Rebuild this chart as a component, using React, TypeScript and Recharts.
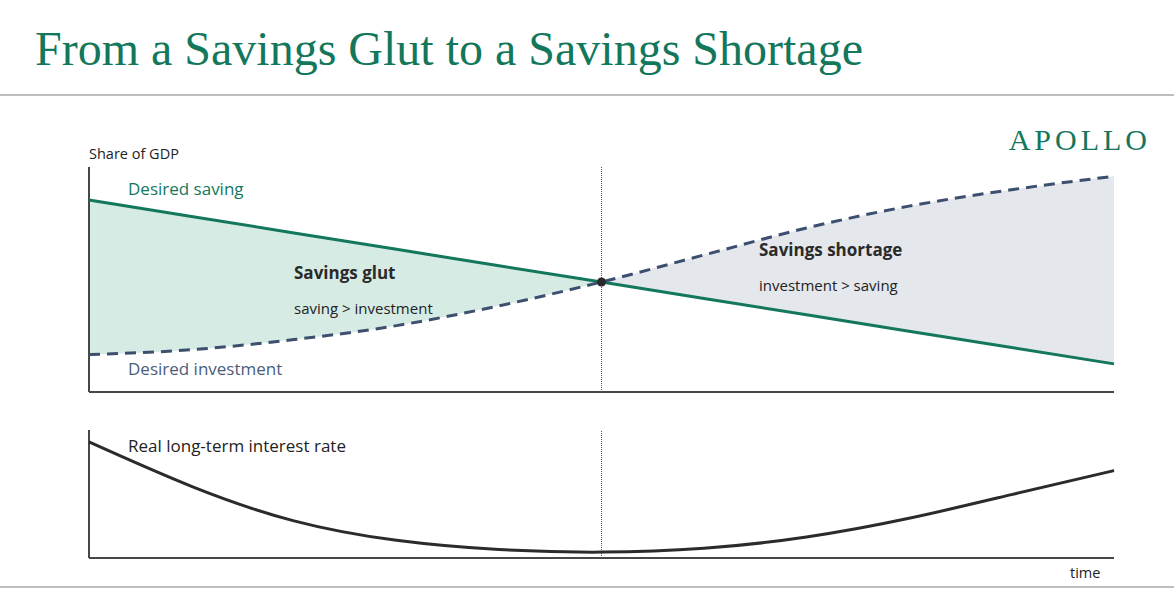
import React from "react";
import {
  ComposedChart,
  LineChart,
  Line,
  Area,
  XAxis,
  YAxis,
  ReferenceLine,
  ReferenceDot,
} from "recharts";

// time axis (0 = left edge, 100 = right edge), 50 = crossing point
const time = [0, 10, 20, 30, 40, 50, 60, 70, 80, 90, 100];
// share of GDP (arbitrary units)
const desiredSaving = [85.3, 78.0, 70.7, 63.4, 56.1, 48.9, 41.6, 34.3, 27.0, 19.8, 12.5];
const desiredInvestment = [16.6, 18.8, 23.3, 29.5, 38.3, 48.9, 60.9, 72.9, 82.6, 89.9, 95.9];
// real long-term interest rate (arbitrary units)
const interestRate = [90.7, 56, 29, 13.8, 6.6, 4.6, 7.6, 16.4, 31, 49.5, 68.3];

const crossing = 50;

const colors = {
  green: "#13775c",
  navy: "#3d4f6f",
  navyText: "#4b5c7a",
  glutFill: "#d7ebe5",
  shortageFill: "#e4e7ec",
  axis: "#474747",
  text: "#222",
  rule: "#a8a8a8",
};

const topData = time.map((t, i) => ({
  t,
  saving: desiredSaving[i],
  investment: desiredInvestment[i],
  glut: t <= crossing ? [desiredInvestment[i], desiredSaving[i]] : null,
  shortage: t >= crossing ? [desiredSaving[i], desiredInvestment[i]] : null,
}));

const bottomData = time.map((t, i) => ({ t, rate: interestRate[i] }));

const sans = "'Open Sans', 'Noto Sans', sans-serif";
const serif = "'Liberation Serif', serif";

const hiddenAxes = [
  <XAxis key="x" dataKey="t" type="number" domain={[0, 100]} hide />,
  <YAxis key="y" type="number" domain={[0, 100]} hide />,
];

export default function App() {
  return (
    <div
      style={{
        position: "absolute",
        left: 0,
        top: 0,
        width: 1174,
        height: 602,
        background: "#fff",
        overflow: "hidden",
      }}
    >
      {/* top panel: saving vs investment */}
      <div style={{ position: "absolute", left: 0, top: 0 }}>
        <ComposedChart
          width={1174}
          height={602}
          data={topData}
          margin={{ top: 167, right: 60, bottom: 210, left: 89 }}
        >
          {hiddenAxes}
          <Area
            dataKey="glut"
            type="monotone"
            stroke="none"
            fill={colors.glutFill}
            fillOpacity={1}
            isAnimationActive={false}
          />
          <Area
            dataKey="shortage"
            type="monotone"
            stroke="none"
            fill={colors.shortageFill}
            fillOpacity={1}
            isAnimationActive={false}
          />
          <ReferenceLine x={0} stroke={colors.axis} strokeWidth={2} />
          <ReferenceLine y={0} stroke={colors.axis} strokeWidth={2} />
          <ReferenceLine x={crossing} stroke="#555" strokeWidth={1} strokeDasharray="1 1" />
          <Line
            dataKey="saving"
            type="linear"
            stroke={colors.green}
            strokeWidth={3}
            dot={false}
            isAnimationActive={false}
          />
          <Line
            dataKey="investment"
            type="monotone"
            stroke={colors.navy}
            strokeWidth={3}
            strokeDasharray="11 7"
            dot={false}
            isAnimationActive={false}
          />
          <ReferenceDot x={crossing} y={desiredSaving[5]} r={4.5} fill="#2a2a2a" stroke="none" />
        </ComposedChart>
      </div>

      {/* bottom panel: real long-term interest rate */}
      <div style={{ position: "absolute", left: 0, top: 0 }}>
        <LineChart
          width={1174}
          height={602}
          data={bottomData}
          margin={{ top: 430, right: 60, bottom: 44, left: 89 }}
        >
          {hiddenAxes}
          <ReferenceLine x={0} stroke={colors.axis} strokeWidth={2} />
          <ReferenceLine y={0} stroke={colors.axis} strokeWidth={2} />
          <ReferenceLine x={crossing} stroke="#555" strokeWidth={1} strokeDasharray="1 1" />
          <Line
            dataKey="rate"
            type="natural"
            stroke="#2b2b2b"
            strokeWidth={3}
            dot={false}
            isAnimationActive={false}
          />
        </LineChart>
      </div>

      {/* title, rules and labels */}
      <svg
        width={1174}
        height={602}
        style={{ position: "absolute", left: 0, top: 0, pointerEvents: "none" }}
      >
        <text x={35} y={65} fontFamily={serif} fontSize={48} fill={colors.green}>
          From a Savings Glut to a Savings Shortage
        </text>
        <line x1={0} x2={1174} y1={95} y2={95} stroke={colors.rule} strokeWidth={1.5} />
        <line x1={0} x2={1174} y1={587} y2={587} stroke={colors.rule} strokeWidth={1.5} />
        <text
          x={1151}
          y={150}
          textAnchor="end"
          fontFamily={serif}
          fontSize={30}
          letterSpacing={4}
          fill={colors.green}
        >
          APOLLO
        </text>

        <g fontFamily={sans} dominantBaseline="central">
          <text x={89} y={153} fontSize={14.5} fill={colors.text}>Share of GDP</text>
          <text x={128} y={188} fontSize={17} fill={colors.green}>Desired saving</text>
          <text x={128} y={368} fontSize={17} fill={colors.navyText}>Desired investment</text>
          <text x={294} y={272} fontSize={17} fontWeight="bold" fill="#2a2a2a">Savings glut</text>
          <text x={294} y={308} fontSize={15} fill={colors.text}>saving &gt; investment</text>
          <text x={759} y={249} fontSize={17} fontWeight="bold" fill="#2a2a2a">Savings shortage</text>
          <text x={759} y={285} fontSize={15} fill={colors.text}>investment &gt; saving</text>
          <text x={128} y={445} fontSize={17} fill={colors.text}>Real long-term interest rate</text>
          <text x={1070} y={572} fontSize={14.5} fill={colors.text}>time</text>
        </g>
      </svg>
    </div>
  );
}
